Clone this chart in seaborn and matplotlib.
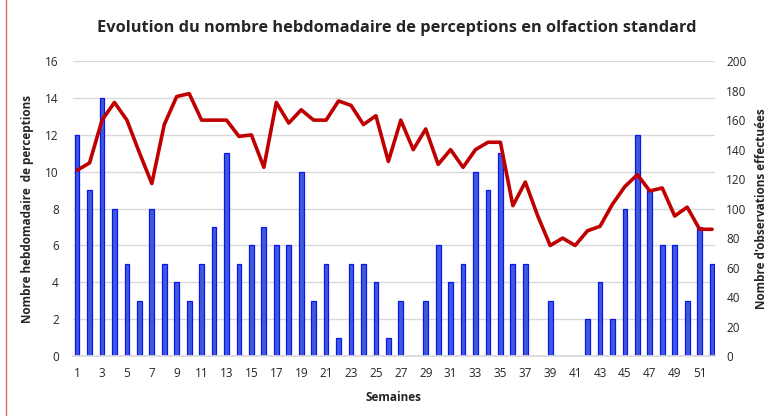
import matplotlib.pyplot as plt
import matplotlib.lines as mlines
import seaborn as sns
import numpy as np
import pandas as pd

# weekly data
semaines = list(range(1, 53))
perceptions = [12, 9, 14, 8, 5, 3, 8, 5, 4, 3, 5, 7, 11, 5, 6, 7, 6, 6, 10, 3,
               5, 1, 5, 5, 4, 1, 3, 0, 3, 6, 4, 5, 10, 9, 11, 5, 5, 0, 3, 0,
               0, 2, 4, 2, 8, 12, 9, 6, 6, 3, 7, 5]
observations = [126, 131, 160, 172, 160, 138, 117, 157, 176, 178, 160, 160, 160, 149,
                150, 128, 172, 158, 167, 160, 160, 173, 170, 157, 163, 132, 160, 140,
                154, 130, 140, 128, 140, 145, 145, 102, 118, 95, 75, 80, 75, 85,
                88, 103, 115, 123, 112, 114, 95, 101, 86, 86]

df = pd.DataFrame({"semaine": semaines, "perceptions": perceptions,
                   "observations": observations})
df["pos"] = np.arange(len(df))

sns.set_theme(style="white")
plt.rcParams["font.family"] = ["Open Sans", "DejaVu Sans"]

fig, ax = plt.subplots(figsize=(7.74, 4.16), dpi=100)
fig.subplots_adjust(left=0.094, right=0.924, top=0.853, bottom=0.144)

sns.barplot(data=df, x="pos", y="perceptions", ax=ax, width=0.38,
            color="#3F5BD8", edgecolor="#0A14F0", linewidth=0.9, saturation=1)
ax.set_ylim(0, 16)
ax.set_yticks(range(0, 17, 2))
ax.set_xlim(-0.35, len(df) - 0.75)
ax.set_xticks(df["pos"][::2])
ax.set_xticklabels(df["semaine"][::2], fontsize=8.5)
ax.tick_params(axis="y", labelsize=8.5, length=0, pad=10)
ax.tick_params(axis="x", length=0, pad=8)
ax.grid(axis="y", color="#D9D9D9", linewidth=1)
ax.set_axisbelow(True)
for s in ["top", "left", "right"]:
    ax.spines[s].set_visible(False)
ax.spines["bottom"].set_color("#D9D9D9")
ax.set_xlabel("Semaines", fontsize=8.5, fontweight="bold", labelpad=8)
ax.set_ylabel("Nombre hebdomadaire  de perceptions", fontsize=8.5,
              fontweight="bold", labelpad=8)

ax2 = ax.twinx()
sns.lineplot(data=df, x="pos", y="observations", ax=ax2, color="#C00000",
             linewidth=2.6)
ax2.set_ylim(0, 200)
ax2.set_yticks(range(0, 201, 20))
ax2.tick_params(axis="y", labelsize=8.5, length=0, pad=8)
for s in ["top", "left", "right", "bottom"]:
    ax2.spines[s].set_visible(False)
ax2.set_ylabel("Nombre d'observations effectuées", fontsize=8.5,
               fontweight="bold", labelpad=6)

fig.suptitle("Evolution du nombre hebdomadaire de perceptions en olfaction standard",
             fontsize=11.8, fontweight="bold", x=0.512, y=0.952)

# thin red frame line at the left edge
fig.add_artist(mlines.Line2D([0.008, 0.008], [0, 1], color="#E06666",
                             linewidth=1, transform=fig.transFigure))

fig.savefig("out.png", dpi=100)
